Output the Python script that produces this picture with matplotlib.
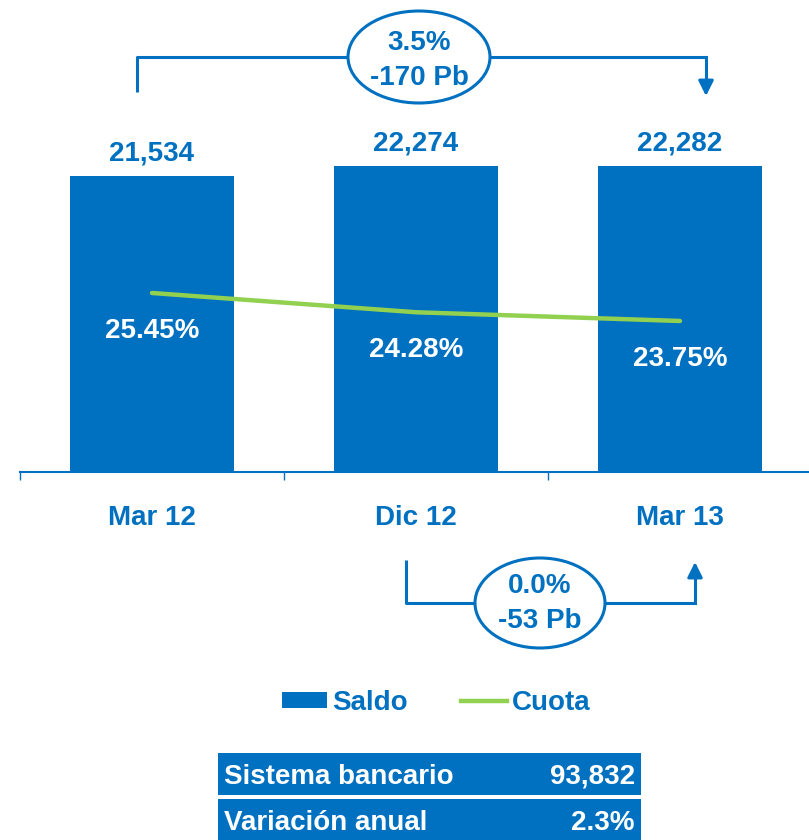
import matplotlib
matplotlib.use("Agg")
import matplotlib.pyplot as plt
from matplotlib.patches import Ellipse, Rectangle, Patch
from matplotlib.lines import Line2D

# ---- data ----
categories = ["Mar 12", "Dic 12", "Mar 13"]
saldo = [21534, 22274, 22282]
cuota = [25.45, 24.28, 23.75]
top_note = ["3.5%", "-170 Pb"]
bottom_note = ["0.0%", "-53 Pb"]
table_labels = ["Sistema bancario", "Variación anual"]
table_values = ["93,832", "2.3%"]

BLUE = "#0070C0"
GREEN = "#92D050"
plt.rcParams["font.family"] = ["Liberation Sans", "DejaVu Sans"]
plt.rcParams["font.weight"] = "bold"
FS = 20

W, H = 809, 840
fig = plt.figure(figsize=(W / 100, H / 100), dpi=100)

# main axes: x from 20 to 812 px, y baseline at 472 px, top at 0 px
ax = fig.add_axes([20 / W, (H - 472) / H, 792 / W, 472 / H])
x = list(range(len(categories)))
ax.bar(x, saldo, width=0.62, color=BLUE, zorder=2)
ax.set_xlim(-0.5, 2.5)
ax.set_ylim(0, 472 / (296 / 21534))
for s in ["top", "left", "right"]:
    ax.spines[s].set_visible(False)
ax.spines["bottom"].set_color(BLUE)
ax.spines["bottom"].set_linewidth(1.5)
ax.set_yticks([])
ax.set_xticks([-0.5, 0.5, 1.5, 2.5])
ax.set_xticklabels([])
ax.tick_params(axis="x", which="major", direction="out", length=6, width=1, color=BLUE)
ax.set_xticks(x, minor=True)
ax.set_xticklabels(categories, minor=True, fontsize=FS, fontweight="bold", color=BLUE)
ax.tick_params(axis="x", which="minor", length=0, pad=24)
for xi, v in zip(x, saldo):
    ax.annotate(f"{v:,}", (xi, v), xytext=(0, 16), textcoords="offset points",
                ha="center", va="center", fontsize=FS, fontweight="bold", color=BLUE)

ax2 = ax.twinx()
ax2.set_ylim(14.58, 43.24)
ax2.axis("off")
ax2.plot(x, cuota, color=GREEN, lw=3.2, solid_capstyle="round", zorder=3)
for xi, c in zip(x, cuota):
    ax2.annotate(f"{c:.2f}%", (xi, c), xytext=(0, -27.5), textcoords="offset points",
                 ha="center", va="center", fontsize=FS, fontweight="bold", color="white")

# overlay in pixel coords
ov = fig.add_axes([0, 0, 1, 1], zorder=5)
ov.set_xlim(0, W)
ov.set_ylim(H, 0)
ov.axis("off")
ov.patch.set_alpha(0)

def bracket(x0, x1, ybar, yend, ex, ey, ew, eh, texts, tys):
    lw = 2.2
    ov.plot([x0, x0, x1], [yend[0], ybar, ybar], color=BLUE, lw=lw, solid_capstyle="butt")
    ov.plot([x1, x1], [ybar, yend[1] - (12 if yend[1] > ybar else -12)], color=BLUE, lw=lw)
    ov.annotate("", xy=(x1, yend[1]), xytext=(x1, yend[1] - (14 if yend[1] > ybar else -14)),
                arrowprops=dict(arrowstyle="-|>,head_length=0.9,head_width=0.45",
                                color=BLUE, lw=lw, shrinkA=0, shrinkB=0))
    ov.add_patch(Ellipse((ex, ey), ew, eh, facecolor="white", edgecolor=BLUE, lw=2.2, zorder=4))
    for t, ty in zip(texts, tys):
        ov.text(ex, ty, t, ha="center", va="center", fontsize=FS, fontweight="bold",
                color=BLUE, zorder=5)

bracket(137, 706, 57, (92, 96), 419, 57, 142, 92, top_note, (43, 78))
bracket(406, 695, 603, (560, 562), 540, 603, 130, 90, bottom_note, (586, 621))

# legend
handles = [Patch(facecolor=BLUE, edgecolor="none"),
           Line2D([0], [0], color=GREEN, lw=3.2)]
leg = fig.legend(handles, ["Saldo", "Cuota"], loc="center",
                 bbox_to_anchor=(436 / W, 1 - 703 / H), ncol=2, frameon=False,
                 borderpad=0, handlelength=1.65, handleheight=0.5,
                 handletextpad=0.18, columnspacing=1.9,
                 prop={"size": FS, "weight": "bold"})
for t in leg.get_texts():
    t.set_color(BLUE)

# table
rows_y = [(753, 795), (799, 841)]
for (y0, y1), lab, val in zip(rows_y, table_labels, table_values):
    ov.add_patch(Rectangle((218, y0), 641 - 218, y1 - y0, facecolor=BLUE, edgecolor="none"))
    ym = (y0 + y1) / 2 + 3
    ov.text(224, ym, lab, ha="left", va="center", fontsize=FS, fontweight="bold", color="white")
    ov.text(635, ym, val, ha="right", va="center", fontsize=FS, fontweight="bold", color="white")

fig.savefig("out.png", dpi=100)
